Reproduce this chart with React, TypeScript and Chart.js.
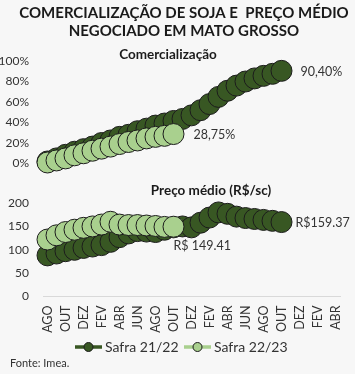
import React, { useEffect, useRef } from 'react';
import { Chart, registerables } from 'chart.js';

Chart.register(...registerables);

const FONT = 'Lato, "Open Sans", sans-serif';

const titleLines = ['COMERCIALIZAÇÃO DE SOJA E  PREÇO MÉDIO', 'NEGOCIADO EM MATO GROSSO'];
const panelTitles = ['Comercialização', 'Preço médio (R$/sc)'];
const seriesNames = ['Safra 21/22', 'Safra 22/23'];
const sourceText = 'Fonte: Imea.';

const months = [
  'AGO', 'SET', 'OUT', 'NOV', 'DEZ', 'JAN', 'FEV', 'MAR', 'ABR', 'MAI', 'JUN', 'JUL',
  'AGO', 'SET', 'OUT', 'NOV', 'DEZ', 'JAN', 'FEV', 'MAR', 'ABR', 'MAI', 'JUN', 'JUL',
  'AGO', 'SET', 'OUT', 'NOV', 'DEZ', 'JAN', 'FEV', 'MAR', 'ABR',
];

// Comercialização (%)
const com2122 = [2, 5, 8.5, 11.5, 14, 16.5, 20, 22.5, 26, 28, 31.5, 34, 37, 39, 41.5, 43.5, 47, 52, 58, 65, 71, 76, 80, 83, 85.5, 87.5, 90.4];
const com2223 = [1, 3, 5, 8, 10, 12.5, 14.5, 16.5, 19, 21, 22.5, 24.5, 26, 27, 28.75];

// Preço médio (R$/sc)
const price2122 = [88, 92, 97, 100, 104, 107, 110, 117, 127, 135, 140, 139, 138, 143, 148, 150, 148, 158, 169, 180, 177, 171, 168, 166, 164, 162, 159.37];
const price2223 = [122, 131, 138, 143, 147, 150, 154, 160, 154, 153, 153, 152, 151, 149, 149.41];

const endLabels = ['90,40%', '28,75%', 'R$159.37', 'R$ 149.41'];

const comTickStep = 20;
const priceTickStep = 50;

const DARK = '#385723';
const LIGHT = '#a9d08e';
const EDGE = '#1c1c1c';
const TEXT = '#333333';

function ds(label: string, data: number[], color: string, axis: string, order: number) {
  return {
    label,
    data,
    yAxisID: axis,
    order,
    borderColor: color,
    backgroundColor: color,
    borderWidth: 3,
    pointRadius: 10.5,
    pointHoverRadius: 10.5,
    pointBackgroundColor: color,
    pointBorderColor: EDGE,
    pointBorderWidth: 1,
    tension: 0,
    clip: false as any,
  };
}

const textPlugin = {
  id: 'customTexts',
  afterDraw(chart: any) {
    const ctx = chart.ctx as CanvasRenderingContext2D;
    const yCom = chart.scales.yCom;
    const yPrice = chart.scales.yPrice;
    ctx.save();
    ctx.textBaseline = 'middle';

    // main title
    ctx.fillStyle = '#1a1a1a';
    ctx.font = `bold 15px ${FONT}`;
    ctx.textAlign = 'center';
    titleLines.forEach((l, i) => ctx.fillText(l, 184, 13 + i * 18));

    // panel titles
    ctx.font = `bold 13.5px ${FONT}`;
    ctx.fillText(panelTitles[0], 168, yCom.top + 3.5);
    ctx.fillText(panelTitles[1], 211, yPrice.top + 8);

    // end labels
    ctx.font = `12.5px ${FONT}`;
    ctx.fillStyle = TEXT;
    ctx.textAlign = 'left';
    const offsets = [
      [19, 1],
      [20, 1],
      [14, 1],
      [0, 19],
    ];
    for (let i = 0; i < 4; i++) {
      const meta = chart.getDatasetMeta(i);
      const pt = meta.data[meta.data.length - 1];
      ctx.fillText(endLabels[i], pt.x + offsets[i][0], pt.y + offsets[i][1]);
    }

    // legend
    const ly = 347;
    ctx.font = `14px ${FONT}`;
    const colors = [DARK, LIGHT];
    const starts = [75, 184];
    for (let i = 0; i < 2; i++) {
      const x0 = starts[i];
      ctx.strokeStyle = colors[i];
      ctx.lineWidth = 3.5;
      ctx.beginPath();
      ctx.moveTo(x0, ly);
      ctx.lineTo(x0 + 27, ly);
      ctx.stroke();
      ctx.beginPath();
      ctx.arc(x0 + 13.5, ly, 4.5, 0, Math.PI * 2);
      ctx.fillStyle = colors[i];
      ctx.fill();
      ctx.lineWidth = 1;
      ctx.strokeStyle = EDGE;
      ctx.stroke();
      ctx.fillStyle = TEXT;
      ctx.fillText(seriesNames[i], x0 + 30, ly);
    }

    // source
    ctx.font = `11px ${FONT}`;
    ctx.fillStyle = TEXT;
    ctx.fillText(sourceText, 10, 363);
    ctx.restore();
  },
};

export default function App() {
  const ref = useRef<HTMLCanvasElement | null>(null);

  useEffect(() => {
    document.body.style.margin = '0';
    document.body.style.background = '#f7f7f7';
    if (!ref.current) return;
    const tickFont = { family: FONT, size: 12.5 };
    const yTickFont = { family: FONT, size: 12 };
    const chart = new Chart(ref.current, {
      type: 'line',
      data: {
        labels: months,
        datasets: [
          ds(seriesNames[0], com2122, DARK, 'yCom', 2),
          ds(seriesNames[1], com2223, LIGHT, 'yCom', 1),
          ds(seriesNames[0], price2122, DARK, 'yPrice', 2),
          ds(seriesNames[1], price2223, LIGHT, 'yPrice', 1),
        ] as any,
      },
      options: {
        responsive: false,
        animation: false,
        layout: { padding: { left: 0, right: 15, top: 50.75, bottom: 37.5 } },
        plugins: {
          legend: { display: false },
          tooltip: { enabled: false },
          title: { display: false },
        },
        scales: {
          x: {
            type: 'category',
            offset: true,
            grid: { display: false },
            border: { display: true, color: '#d9d9d9', width: 1 },
            ticks: {
              autoSkip: false,
              minRotation: 90,
              maxRotation: 90,
              padding: 1,
              color: TEXT,
              font: tickFont,
              callback: function (this: any, v: any, i: number) {
                return i % 2 === 0 ? this.getLabelForValue(v) : '';
              },
            },
            afterFit: (s: any) => {
              s.height = 40;
            },
          },
          yPrice: {
            type: 'linear',
            position: 'left',
            stack: 'panels',
            stackWeight: 113.5,
            min: 0,
            max: 243,
            grid: { display: false },
            border: { display: false },
            ticks: { stepSize: priceTickStep, autoSkip: false, includeBounds: false, padding: 6, color: TEXT, font: yTickFont },
            afterFit: (s: any) => {
              s.width = 43;
            },
          },
          yCom: {
            type: 'linear',
            position: 'left',
            stack: 'panels',
            stackWeight: 132.25,
            min: -19,
            max: 110,
            grid: { display: false },
            border: { display: false },
            ticks: {
              stepSize: comTickStep,
              autoSkip: false,
              includeBounds: false,
              padding: 6,
              color: TEXT,
              font: yTickFont,
              callback: (v: any) => `${v}%`,
            },
            afterFit: (s: any) => {
              s.width = 43;
            },
          },
        } as any,
      },
      plugins: [textPlugin],
    });
    return () => chart.destroy();
  }, []);

  return (
    <div style={{ width: 355, height: 374 }}>
      <canvas ref={ref} width={355} height={374} style={{ display: 'block' }} />
    </div>
  );
}
